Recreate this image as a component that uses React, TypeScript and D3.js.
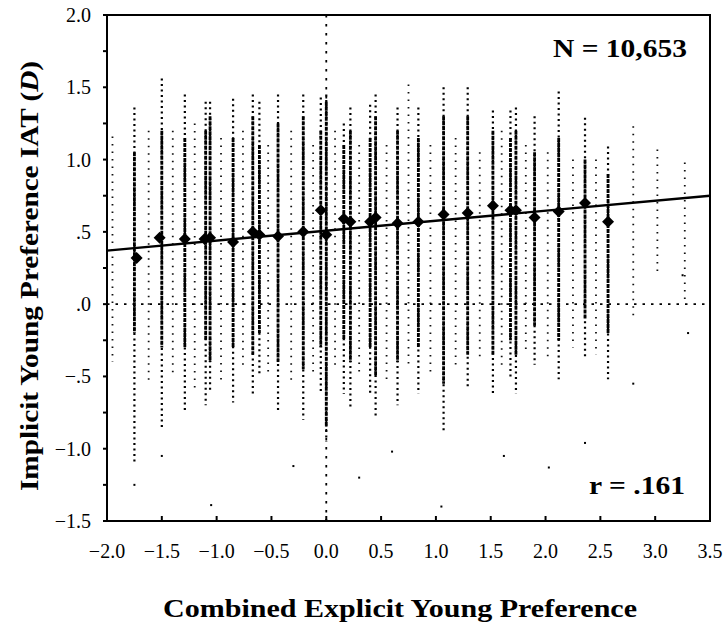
import React from "react";
import * as d3 from "d3";

// ---- Data ----
const xTicks = [-2, -1.5, -1, -0.5, 0, 0.5, 1, 1.5, 2, 2.5, 3, 3.5];
const xTickLabels = ["−2.0", "−1.5", "−1.0", "−0.5", "0.0", "0.5", "1.0", "1.5", "2.0", "2.5", "3.0", "3.5"];
const yTicks = [-1.5, -1, -0.5, 0, 0.5, 1, 1.5, 2];
const yTickLabels = ["−1.5", "−1.0", "−.5", ".0", ".5", "1.0", "1.5", "2.0"];
const yMinorTicks = [-1.25, -0.75, -0.25, 0.25, 0.75, 1.25, 1.75];

// Means per explicit-score group (diamonds)
const meanX = [-1.73, -1.52, -1.29, -1.11, -1.06, -0.85, -0.67, -0.61, -0.44, -0.21, -0.05, 0.0, 0.16, 0.22, 0.4, 0.45, 0.65, 0.84, 1.07, 1.29, 1.52, 1.68, 1.73, 1.9, 2.12, 2.36, 2.57];
const meanY = [0.32, 0.46, 0.45, 0.45, 0.46, 0.43, 0.5, 0.48, 0.47, 0.5, 0.65, 0.48, 0.59, 0.57, 0.57, 0.6, 0.56, 0.57, 0.62, 0.63, 0.68, 0.65, 0.65, 0.6, 0.64, 0.7, 0.57];

// Dense columns of individual scores: [x, top, coreTop, coreBottom, bottom]
const denseColumns: [number, number, number, number, number][] = [
  [-1.75, 1.36, 1.05, -0.2, -1.1],
  [-1.5, 1.56, 1.2, -0.3, -0.85],
  [-1.29, 1.45, 1.15, -0.3, -0.75],
  [-1.1, 1.4, 1.2, -0.25, -0.7],
  [-1.06, 1.4, 1.3, -0.4, -0.6],
  [-0.85, 1.42, 1.15, -0.3, -0.68],
  [-0.67, 1.45, 1.3, -0.35, -0.62],
  [-0.61, 1.4, 1.1, -0.2, -0.5],
  [-0.44, 1.45, 1.25, -0.4, -0.75],
  [-0.21, 1.45, 1.3, -0.45, -0.8],
  [-0.05, 1.43, 1.2, -0.3, -0.6],
  [0.0, 1.45, 1.4, -0.85, -0.95],
  [0.16, 1.25, 1.1, -0.25, -0.62],
  [0.22, 1.36, 1.2, -0.4, -0.72],
  [0.4, 1.38, 1.15, -0.3, -0.62],
  [0.45, 1.45, 1.3, -0.5, -0.78],
  [0.65, 1.36, 1.2, -0.4, -0.7],
  [0.84, 1.36, 1.15, -0.3, -0.62],
  [1.07, 1.5, 1.3, -0.55, -0.88],
  [1.29, 1.5, 1.3, -0.35, -0.58],
  [1.52, 1.34, 1.2, -0.35, -0.62],
  [1.68, 1.34, 1.15, -0.25, -0.52],
  [1.73, 1.36, 1.2, -0.35, -0.62],
  [1.9, 1.3, 1.05, -0.15, -0.42],
  [2.12, 1.47, 1.15, -0.25, -0.52],
  [2.36, 1.29, 1.0, -0.1, -0.38],
  [2.57, 1.09, 0.9, -0.2, -0.52],
];

// Sparse columns: [x, top, bottom]
const sparseColumns: [number, number, number][] = [
  [-1.95, 1.16, -0.4],
  [-1.62, 1.2, -0.55],
  [-1.4, 1.2, -0.5],
  [-1.2, 1.25, -0.6],
  [-0.96, 1.15, -0.55],
  [-0.76, 1.2, -0.45],
  [-0.53, 1.1, -0.5],
  [-0.32, 1.2, -0.55],
  [-0.12, 1.1, -0.5],
  [0.08, 1.2, -0.45],
  [0.3, 1.1, -0.5],
  [0.55, 1.1, -0.55],
  [0.75, 1.52, -0.45],
  [0.95, 1.1, -0.5],
  [1.18, 1.15, -0.45],
  [1.4, 1.05, -0.4],
  [1.6, 1.2, -0.45],
  [1.82, 1.1, -0.35],
  [2.02, 1.05, -0.4],
  [2.25, 1.0, -0.3],
  [2.46, 1.0, -0.35],
  [2.8, 1.23, -0.1],
  [3.02, 1.07, 0.2],
  [3.27, 0.98, 0.0],
];

// Isolated outlying scores
const outlierX = [-1.75, -1.05, 1.05, 2.36, 2.03, -0.3, 0.6, 1.62, 2.8, 3.25, 3.3, -1.5, 0.3];
const outlierY = [-1.25, -1.39, -1.4, -0.96, -1.13, -1.12, -1.02, -1.05, -0.55, 0.2, -0.2, -1.05, -1.2];

// Regression line
const regX = [-2, 3.5];
const regY = [0.37, 0.75];

const nLabel = "N = 10,653";
const rLabel = "r = .161";

// ---- Layout ----
const W = 726;
const H = 627;
const left = 107;
const right = 710;
const top = 15;
const bottom = 521;
const SERIF = '"Liberation Serif", "DejaVu Serif", "Times New Roman", serif';

export default function App() {
  const x = d3.scaleLinear().domain([-2, 3.5]).range([left, right]);
  const y = d3.scaleLinear().domain([-1.5, 2]).range([bottom, top]);
  const line = d3
    .line<number>()
    .x((_, i) => x(regX[i]))
    .y((d) => y(d));
  const diamond = d3.symbol(d3.symbolSquare, 72)();
  const ts = { fontFamily: SERIF } as React.CSSProperties;

  return (
    <svg
      width={W}
      height={H}
      viewBox={`0 0 ${W} ${H}`}
      style={{ position: "absolute", left: 0, top: 0, background: "#fff", fontFamily: SERIF }}
    >
      <rect x={0} y={0} width={W} height={H} fill="#fff" />

      {/* sparse columns */}
      <g stroke="#111" strokeWidth={1.8}>
        {sparseColumns.map(([cx, t, b], i) => (
          <line key={"s" + i} x1={x(cx)} x2={x(cx)} y1={y(t)} y2={y(b)} strokeDasharray="1.5,6" />
        ))}
      </g>

      {/* dense columns */}
      <g stroke="#000">
        {denseColumns.map(([cx, t, ct, cb, b], i) => (
          <g key={"d" + i}>
            <line x1={x(cx)} x2={x(cx)} y1={y(t)} y2={y(b)} strokeWidth={2.2} strokeDasharray="2,3.5" />
            <line x1={x(cx)} x2={x(cx)} y1={y(ct)} y2={y(cb)} strokeWidth={2.8} strokeDasharray="4,1" />
          </g>
        ))}
      </g>

      {/* outliers */}
      <g fill="#000">
        {outlierX.map((ox, i) => (
          <rect key={"o" + i} x={x(ox) - 1} y={y(outlierY[i]) - 1} width={2} height={2} />
        ))}
      </g>

      {/* zero reference lines */}
      <line x1={left} x2={right} y1={y(0)} y2={y(0)} stroke="#000" strokeWidth={1.8} strokeDasharray="2.5,6" />
      <line x1={x(0)} x2={x(0)} y1={top} y2={bottom} stroke="#000" strokeWidth={1.8} strokeDasharray="2.5,6.5" />

      {/* regression line */}
      <path d={line(regY) || ""} fill="none" stroke="#000" strokeWidth={2.4} />

      {/* means */}
      <g fill="#000">
        {meanX.map((mx, i) => (
          <path key={"m" + i} d={diamond || ""} transform={`translate(${x(mx)},${y(meanY[i])}) rotate(45)`} />
        ))}
      </g>

      {/* frame */}
      <rect x={left} y={top} width={right - left} height={bottom - top} fill="none" stroke="#000" strokeWidth={2} />

      {/* x ticks */}
      <g>
        {xTicks.map((t, i) => (
          <g key={"xt" + i}>
            <line x1={x(t)} x2={x(t)} y1={bottom} y2={bottom - 5} stroke="#000" strokeWidth={2} />
            <text x={x(t)} y={558} textAnchor="middle" fontSize={20} fill="#000" style={ts}>
              {xTickLabels[i]}
            </text>
          </g>
        ))}
      </g>

      {/* y ticks */}
      <g>
        {yTicks.map((t, i) => (
          <g key={"yt" + i}>
            <line x1={left - 4} x2={left} y1={y(t)} y2={y(t)} stroke="#000" strokeWidth={2} />
            <text x={91} y={y(t)} dy="0.35em" textAnchor="end" fontSize={20} fill="#000" style={ts}>
              {yTickLabels[i]}
            </text>
          </g>
        ))}
        {yMinorTicks.map((t, i) => (
          <line key={"ym" + i} x1={left - 4} x2={left} y1={y(t)} y2={y(t)} stroke="#000" strokeWidth={2} />
        ))}
      </g>

      {/* annotations */}
      <text x={687} y={57} textAnchor="end" fontSize={26} fontWeight="bold" fill="#000" style={ts} textLength={134} lengthAdjust="spacingAndGlyphs">
        {nLabel}
      </text>
      <text x={685} y={494} textAnchor="end" fontSize={26} fontWeight="bold" fill="#000" style={ts} textLength={96} lengthAdjust="spacingAndGlyphs">
        {rLabel}
      </text>

      {/* axis titles */}
      <text x={400} y={617} textAnchor="middle" fontSize={26} fontWeight="bold" fill="#000" style={ts} textLength={474} lengthAdjust="spacingAndGlyphs">
        Combined Explicit Young Preference
      </text>
      <text
        transform={`translate(38,${(top + bottom) / 2 + 8}) rotate(-90)`}
        textAnchor="middle"
        fontSize={26}
        fontWeight="bold"
        fill="#000"
        style={ts}
        textLength={430}
        lengthAdjust="spacingAndGlyphs"
      >
        Implicit Young Preference IAT (<tspan fontStyle="italic">D</tspan>)
      </text>
    </svg>
  );
}
